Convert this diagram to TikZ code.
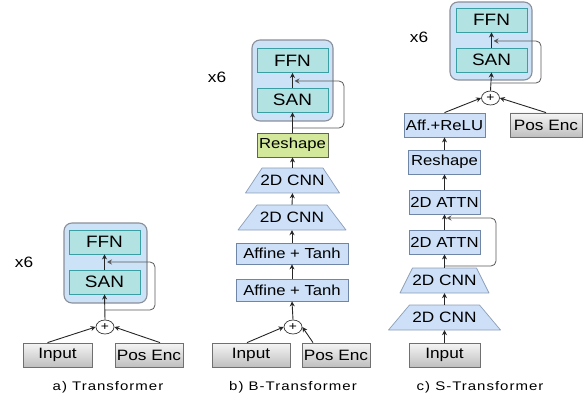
\documentclass[tikz,border=0pt]{standalone}
\usepackage{fontspec}
\setmainfont{Liberation Sans}[FakeStretch=1.15]
\newfontfamily\capfont{Liberation Sans}[FakeStretch=1.2,LetterSpace=8]
\usetikzlibrary{arrows.meta,calc,shapes.geometric}
\definecolor{outerfill}{HTML}{CCE2F7}
\definecolor{outerdraw}{HTML}{8A8F99}
\definecolor{tealfill}{HTML}{B2E2E2}
\definecolor{tealdraw}{HTML}{3A9FA3}
\definecolor{bluefill}{HTML}{CDE0F7}
\definecolor{bluedraw}{HTML}{6F86A6}
\definecolor{greenfill}{HTML}{D3E89B}
\definecolor{greendraw}{HTML}{5F6650}
\definecolor{graydraw}{HTML}{707070}
\tikzset{
  outerbox/.style={draw=outerdraw,fill=outerfill,line width=1.1pt,rounded corners=8pt},
  tealbox/.style={draw=tealdraw,fill=tealfill,line width=0.9pt,minimum width=71pt,minimum height=24pt,inner sep=0pt,font=\fontsize{16.5}{18}\selectfont},
  bluebox/.style={draw=bluedraw,fill=bluefill,line width=0.8pt,minimum height=23pt,inner sep=0pt,font=\fontsize{14.5}{16}\selectfont},
  greenbox/.style={draw=greendraw,fill=greenfill,line width=0.8pt,minimum width=71pt,minimum height=24pt,inner sep=0pt,font=\fontsize{14.5}{16}\selectfont},
  graybox/.style={draw=graydraw,top color=gray!8,bottom color=gray!50,line width=0.8pt,minimum height=24pt,inner sep=0pt,font=\fontsize{15}{16}\selectfont},
  trapbox/.style={draw=bluedraw!80,fill=bluefill,line width=0.7pt,line join=round},
  traplabel/.style={inner sep=0pt,minimum height=25pt,font=\fontsize{15}{16}\selectfont},
  plusnode/.style={draw=black!80,fill=white,ellipse,line width=0.7pt,minimum width=18pt,minimum height=14pt,inner sep=0pt,font=\fontsize{12}{12}\selectfont},
  arr/.style={draw=black!85,line width=0.9pt,-{Stealth[length=5pt,width=5pt]}},
  resid/.style={draw=black!65,line width=0.8pt,rounded corners=5pt,-{Stealth[length=5pt,width=5pt]}},
  capt/.style={font=\capfont\fontsize{12.5}{14}\selectfont},
  xsix/.style={font=\fontsize{15}{16}\selectfont}
}
\newcommand{\trapz}[6]{% name, cx, cy, halftop, halfbot, text
  \path[trapbox] (#2-#4,#3-12.5) -- (#2+#4,#3-12.5) -- (#2+#5,#3+12.5) -- (#2-#5,#3+12.5) -- cycle;
  \node[traplabel,minimum width=2*#4 pt] (#1) at (#2,#3) {#6};
}
\begin{document}
\begin{tikzpicture}[x=1pt,y=-1pt]
\useasboundingbox (0,0) rectangle (588,403);

% ---------------- a) Transformer ----------------
\draw[outerbox] (64,223) rectangle (147,303);
\node[tealbox] (ffna) at (104.5,242) {FFN};
\node[tealbox] (sana) at (104.5,282) {SAN};
\node[plusnode] (plusa) at (105,327) {+};
\node[graybox,minimum width=69pt] (inputa) at (57.5,355) {Input};
\node[graybox,minimum width=68pt] (posa) at (149,355) {Pos Enc};
\node[xsix] (x6a) at (24,262) {x6};
\node[capt] (capa) at (108,387) {a) Transformer};
\coordinate (ra) at (105,310);
\coordinate (rta) at (105,262);
\draw[arr] ($(inputa.north)+(-10,0)$) -- (plusa.west);
\draw[arr] ($(posa.north)+(11,0)$) -- (plusa.east);
\draw[arr] (plusa.north) -- (sana.south);
\draw[arr] (sana.north) -- (ffna.south);
\draw[resid] (ra) -- (155,310) -- (155,262) -- ($(rta)+(2,0)$);

% ---------------- b) B-Transformer ----------------
\draw[outerbox] (252,40) rectangle (333,121);
\node[tealbox] (ffnb) at (292.5,60.5) {FFN};
\node[tealbox] (sanb) at (292.5,100) {SAN};
\node[greenbox] (reshb) at (292.5,145) {Reshape};
\trapz{cnnb1}{292.5}{180.5}{30.5}{47}{2D CNN}
\trapz{cnnb2}{292}{217.5}{35}{54}{2D CNN}
\node[bluebox,minimum width=112pt,minimum height=21pt] (affb1) at (292,253.5) {Affine + Tanh};
\node[bluebox,minimum width=112pt,minimum height=22pt] (affb2) at (292,290) {Affine + Tanh};
\node[plusnode] (plusb) at (293,327) {+};
\node[graybox,minimum width=78pt] (inputb) at (251,355) {Input};
\node[graybox,minimum width=68pt] (posb) at (336,355) {Pos Enc};
\node[xsix] (x6b) at (217,77) {x6};
\node[capt] (capb) at (293,387) {b) B-Transformer};
\coordinate (rb) at (292.5,128);
\coordinate (rtb) at (292.5,81);
\draw[arr] ($(inputb.north)+(-4,0)$) -- (plusb.west);
\draw[arr] ($(posb.north)+(-23,0)$) -- (plusb.east);
\draw[arr] (plusb.north) -- (affb2.south);
\draw[arr] (affb2.north) -- (affb1.south);
\draw[arr] (affb1.north) -- (cnnb2.south);
\draw[arr] (cnnb2.north) -- (cnnb1.south);
\draw[arr] (cnnb1.north) -- (reshb.south);
\draw[arr] (reshb.north) -- (sanb.south);
\draw[arr] (sanb.north) -- (ffnb.south);
\draw[resid] (rb) -- (344,128) -- (344,81) -- ($(rtb)+(2,0)$);

% ---------------- c) S-Transformer ----------------
\draw[outerbox] (450,2) rectangle (532,80);
\node[tealbox] (ffnc) at (491.5,20) {FFN};
\node[tealbox] (sanc) at (491.5,60) {SAN};
\node[plusnode] (plusc) at (490.5,98) {+};
\node[bluebox,minimum width=81pt,minimum height=24pt] (affc) at (444.5,125) {Aff.+ReLU};
\node[graybox,minimum width=72pt] (posc) at (546,125) {Pos Enc};
\node[bluebox,minimum width=72pt,minimum height=24pt] (reshc) at (444.5,162) {Reshape};
\node[bluebox,minimum width=71pt,minimum height=24pt] (attc1) at (444.5,202) {2D ATTN};
\node[bluebox,minimum width=71pt,minimum height=24pt] (attc2) at (444.5,242) {2D ATTN};
\trapz{cnnc1}{444.5}{280.5}{32}{44.5}{2D CNN}
\trapz{cnnc2}{444.5}{317.5}{35}{56}{2D CNN}
\node[graybox,minimum width=71pt] (inputc) at (444.5,355) {Input};
\node[xsix] (x6c) at (419,37) {x6};
\node[capt] (capc) at (480,387) {c) S-Transformer};
\coordinate (rc) at (491.5,83);
\coordinate (rtc) at (491.5,41);
\coordinate (rc2) at (444.5,266);
\coordinate (rtc2) at (444.5,218);
\draw[arr] (inputc.north) -- (cnnc2.south);
\draw[arr] (cnnc2.north) -- (cnnc1.south);
\draw[arr] (cnnc1.north) -- (attc2.south);
\draw[arr] (attc2.north) -- (attc1.south);
\draw[arr] (attc1.north) -- (reshc.south);
\draw[arr] (reshc.north) -- (affc.south);
\draw[arr] (affc.north) -- (plusc.west);
\draw[arr] (posc.north) -- (plusc.east);
\draw[arr] (plusc.north) -- (sanc.south);
\draw[arr] (sanc.north) -- (ffnc.south);
\draw[resid] (rc) -- (541,83) -- (541,41) -- ($(rtc)+(2,0)$);
\draw[resid] (rc2) -- (496,266) -- (496,218) -- ($(rtc2)+(2,0)$);
\end{tikzpicture}
\end{document}
